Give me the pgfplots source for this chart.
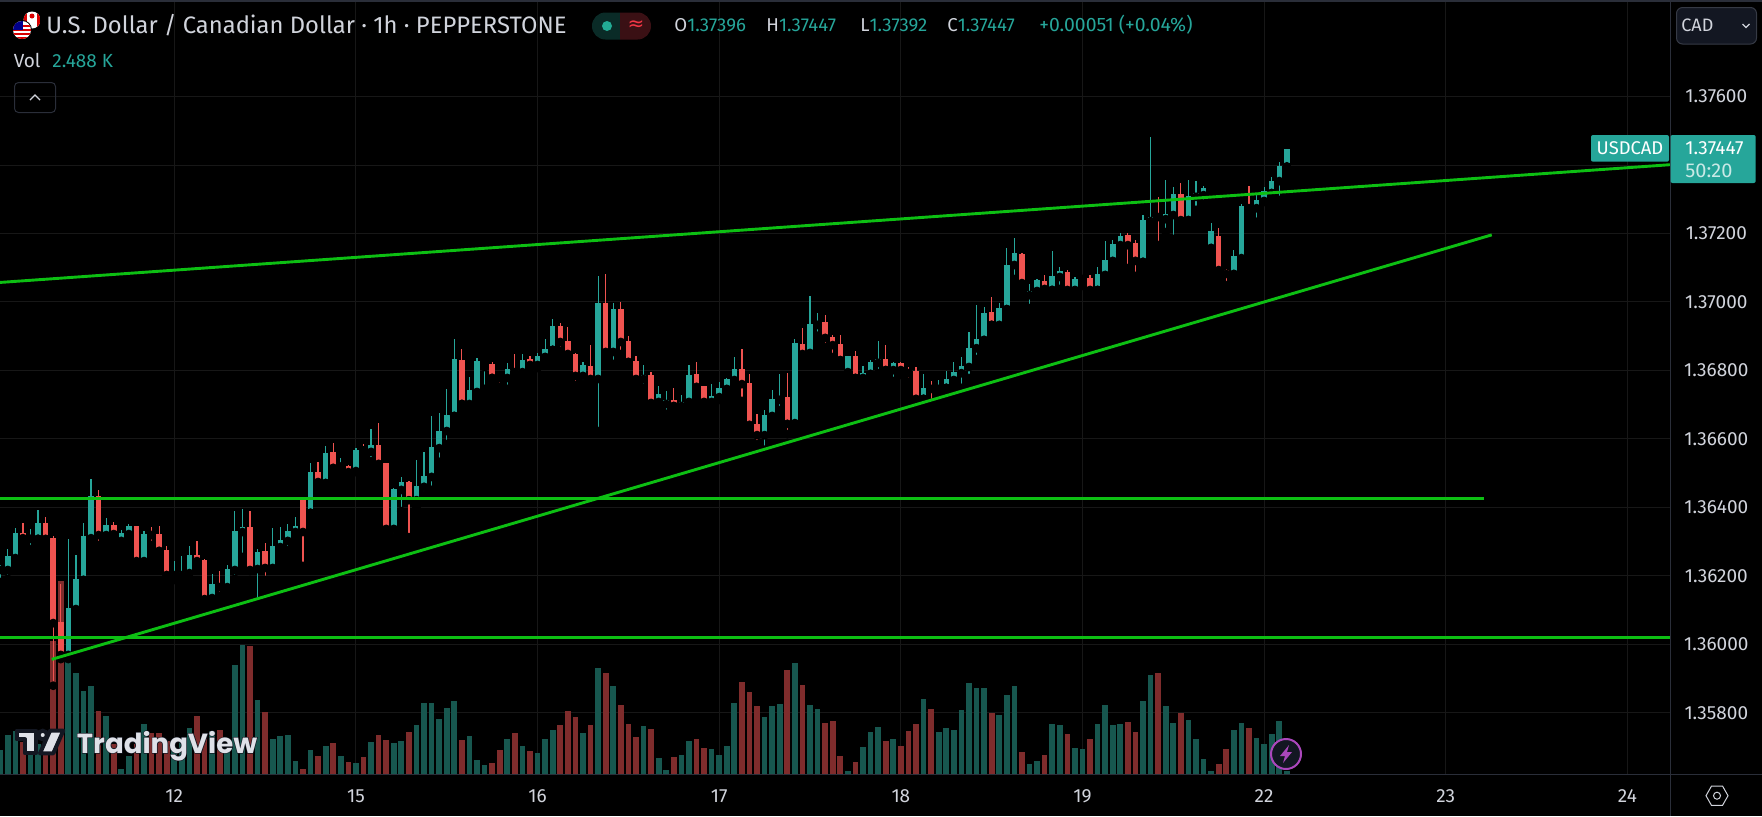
\documentclass[border=0pt]{standalone}
\usepackage{pgfplots}
\usepackage{pgfplotstable}
\usepackage{fontspec}
\pgfplotsset{compat=1.18}
\setmainfont{Fira Sans}
\newfontfamily\tvfont{Poppins}
\newfontfamily\tvhalo{Poppins}[FakeBold=4]
\newfontfamily\symfont{DejaVu Sans}
\definecolor{bgc}{HTML}{000000}
\definecolor{txt}{HTML}{D1D4DC}
\definecolor{upc}{HTML}{26A69A}
\definecolor{dnc}{HTML}{EF5350}
\definecolor{volup}{HTML}{17574F}
\definecolor{voldn}{HTML}{7F2C2C}
\definecolor{gridc}{HTML}{171717}
\definecolor{linec}{HTML}{0DBF13}
\definecolor{sep}{HTML}{2A2E39}
\definecolor{panel}{HTML}{131722}
\definecolor{purp}{HTML}{AB47BC}
\definecolor{pillg}{HTML}{0A2B27}
\definecolor{pillr}{HTML}{3A1014}
\definecolor{dotg}{HTML}{22AB94}
\definecolor{aeq}{HTML}{F23645}
\definecolor{boxb}{HTML}{363A45}
\definecolor{wm}{HTML}{DFE1E8}
\pgfplotstableread{
t o h l c
-23 1.36217 1.36231 1.36182 1.36220
-22 1.36217 1.36278 1.36191 1.36258
-21 1.36252 1.36340 1.36249 1.36325
-19 1.36308 1.36337 1.36278 1.36310
-18 1.36308 1.36392 1.36308 1.36354
-14 1.35969 1.36308 1.35957 1.36106
-13 1.36103 1.36261 1.36088 1.36191
-12 1.36188 1.36354 1.36188 1.36316
-11 1.36310 1.36483 1.36305 1.36433
-9 1.36319 1.36369 1.36305 1.36348
-7 1.36302 1.36334 1.36287 1.36325
-6 1.36322 1.36351 1.36310 1.36346
-4 1.36243 1.36331 1.36237 1.36322
0 1.36202 1.36243 1.36188 1.36205
1 1.36202 1.36258 1.36188 1.36211
2 1.36208 1.36287 1.36191 1.36261
5 1.36135 1.36205 1.36115 1.36176
7 1.36167 1.36232 1.36164 1.36220
8 1.36217 1.36389 1.36191 1.36331
9 1.36328 1.36395 1.36255 1.36343
11 1.36220 1.36278 1.36124 1.36270
13 1.36223 1.36340 1.36220 1.36287
14 1.36284 1.36343 1.36275 1.36305
15 1.36302 1.36351 1.36275 1.36331
16 1.36328 1.36372 1.36325 1.36346
18 1.36384 1.36530 1.36384 1.36503
20 1.36471 1.36579 1.36471 1.36559
22 1.36519 1.36544 1.36500 1.36521
24 1.36506 1.36573 1.36503 1.36568
26 1.36562 1.36629 1.36535 1.36582
29 1.36337 1.36457 1.36313 1.36454
30 1.36451 1.36489 1.36389 1.36474
32 1.36421 1.36538 1.36401 1.36462
33 1.36460 1.36562 1.36436 1.36492
34 1.36489 1.36667 1.36451 1.36576
35 1.36573 1.36676 1.36533 1.36623
36 1.36623 1.36746 1.36585 1.36670
37 1.36667 1.36892 1.36667 1.36833
39 1.36702 1.36781 1.36696 1.36743
40 1.36737 1.36836 1.36725 1.36828
41 1.36810 1.36822 1.36746 1.36819
44 1.36778 1.36822 1.36746 1.36804
46 1.36795 1.36848 1.36792 1.36830
48 1.36816 1.36851 1.36807 1.36842
49 1.36839 1.36892 1.36839 1.36863
50 1.36860 1.36950 1.36860 1.36930
54 1.36784 1.36825 1.36760 1.36816
56 1.36775 1.37076 1.36623 1.36997
58 1.36854 1.36997 1.36819 1.36980
62 1.36775 1.36816 1.36749 1.36787
64 1.36708 1.36755 1.36699 1.36731
65 1.36702 1.36740 1.36673 1.36714
67 1.36696 1.36728 1.36687 1.36708
68 1.36708 1.36816 1.36702 1.36787
71 1.36708 1.36760 1.36690 1.36725
72 1.36722 1.36766 1.36714 1.36749
73 1.36746 1.36778 1.36725 1.36775
74 1.36772 1.36839 1.36757 1.36804
78 1.36611 1.36684 1.36568 1.36670
79 1.36667 1.36743 1.36664 1.36716
80 1.36714 1.36790 1.36684 1.36719
82 1.36646 1.36892 1.36644 1.36880
84 1.36851 1.37017 1.36836 1.36936
85 1.36933 1.36968 1.36901 1.36941
89 1.36795 1.36842 1.36784 1.36842
91 1.36778 1.36813 1.36769 1.36792
92 1.36790 1.36830 1.36769 1.36825
93 1.36822 1.36886 1.36792 1.36833
95 1.36801 1.36825 1.36769 1.36822
99 1.36717 1.36790 1.36717 1.36749
101 1.36746 1.36772 1.36731 1.36752
102 1.36749 1.36798 1.36749 1.36775
103 1.36772 1.36825 1.36769 1.36795
104 1.36792 1.36839 1.36749 1.36813
105 1.36810 1.36912 1.36778 1.36865
106 1.36865 1.36991 1.36833 1.36892
107 1.36889 1.36985 1.36889 1.36968
109 1.36933 1.36997 1.36915 1.36982
110 1.36979 1.37158 1.36979 1.37108
111 1.37108 1.37187 1.37067 1.37143
113 1.37020 1.37052 1.36982 1.37032
114 1.37032 1.37067 1.37020 1.37064
116 1.37035 1.37149 1.37035 1.37076
117 1.37073 1.37102 1.37038 1.37090
119 1.37035 1.37073 1.37029 1.37067
120 1.37067 1.37076 1.37047 1.37070
122 1.37035 1.37102 1.37035 1.37082
123 1.37079 1.37178 1.37064 1.37123
124 1.37120 1.37181 1.37111 1.37169
125 1.37166 1.37201 1.37146 1.37193
128 1.37117 1.37254 1.37117 1.37239
129 1.37236 1.37482 1.37228 1.37248
131 1.37242 1.37356 1.37204 1.37257
132 1.37254 1.37336 1.37184 1.37315
134 1.37239 1.37356 1.37239 1.37309
135 1.37307 1.37353 1.37269 1.37318
136 1.37312 1.37339 1.37286 1.37333
137 1.37158 1.37231 1.37152 1.37207
140 1.37082 1.37152 1.37079 1.37134
141 1.37128 1.37286 1.37125 1.37280
143 1.37274 1.37312 1.37234 1.37298
144 1.37295 1.37336 1.37292 1.37324
145 1.37318 1.37365 1.37318 1.37353
146 1.37353 1.37409 1.37298 1.37397
147 1.37396 1.37447 1.37392 1.37447
}\upT
\pgfplotstableread{
t o h l c
-20 1.36325 1.36354 1.36293 1.36310
-17 1.36354 1.36372 1.36293 1.36308
-16 1.36310 1.36316 1.35879 1.36062
-15 1.36065 1.36176 1.35957 1.35969
-10 1.36433 1.36451 1.36290 1.36319
-8 1.36348 1.36357 1.36305 1.36322
-5 1.36346 1.36346 1.36229 1.36243
-3 1.36322 1.36343 1.36290 1.36319
-2 1.36322 1.36346 1.36261 1.36273
-1 1.36275 1.36287 1.36202 1.36202
3 1.36261 1.36302 1.36235 1.36243
4 1.36246 1.36249 1.36129 1.36132
6 1.36173 1.36214 1.36141 1.36167
10 1.36343 1.36389 1.36214 1.36217
12 1.36273 1.36296 1.36188 1.36223
17 1.36424 1.36430 1.36229 1.36328
19 1.36503 1.36533 1.36465 1.36474
21 1.36562 1.36588 1.36515 1.36515
23 1.36521 1.36524 1.36500 1.36503
25 1.36568 1.36585 1.36544 1.36566
27 1.36582 1.36646 1.36524 1.36527
28 1.36530 1.36530 1.36331 1.36337
31 1.36474 1.36477 1.36313 1.36421
38 1.36830 1.36863 1.36702 1.36702
42 1.36819 1.36825 1.36778 1.36778
43 1.36781 1.36784 1.36752 1.36778
45 1.36804 1.36848 1.36775 1.36795
47 1.36833 1.36842 1.36804 1.36816
51 1.36930 1.36939 1.36857 1.36883
52 1.36886 1.36927 1.36839 1.36848
53 1.36848 1.36851 1.36757 1.36784
55 1.36813 1.36874 1.36766 1.36775
57 1.36997 1.37082 1.36830 1.36854
59 1.36980 1.37000 1.36848 1.36883
60 1.36886 1.36901 1.36822 1.36825
61 1.36828 1.36842 1.36760 1.36775
63 1.36787 1.36795 1.36693 1.36705
66 1.36714 1.36749 1.36696 1.36696
69 1.36790 1.36825 1.36749 1.36752
70 1.36755 1.36755 1.36693 1.36708
75 1.36804 1.36863 1.36711 1.36760
76 1.36763 1.36790 1.36629 1.36641
77 1.36644 1.36673 1.36585 1.36611
81 1.36722 1.36792 1.36614 1.36644
83 1.36877 1.36924 1.36845 1.36848
86 1.36941 1.36962 1.36868 1.36895
87 1.36898 1.36903 1.36839 1.36874
88 1.36877 1.36903 1.36830 1.36830
90 1.36842 1.36857 1.36778 1.36778
94 1.36833 1.36874 1.36801 1.36801
96 1.36822 1.36825 1.36787 1.36801
97 1.36801 1.36810 1.36766 1.36792
98 1.36798 1.36810 1.36714 1.36717
100 1.36749 1.36769 1.36705 1.36746
108 1.36971 1.37014 1.36933 1.36933
112 1.37140 1.37143 1.37050 1.37055
115 1.37061 1.37079 1.37017 1.37038
118 1.37088 1.37093 1.37026 1.37035
121 1.37070 1.37079 1.37032 1.37035
126 1.37196 1.37201 1.37099 1.37166
127 1.37172 1.37181 1.37076 1.37120
130 1.37251 1.37307 1.37166 1.37248
133 1.37315 1.37347 1.37231 1.37239
138 1.37193 1.37216 1.37079 1.37093
139 1.37093 1.37096 1.37049 1.37082
142 1.37283 1.37339 1.37251 1.37274
}\dnT
\pgfplotstableread{
t v
-23 24
-22 39
-21 43
-19 30
-18 30
-14 121
-13 101
-12 83
-11 88
-9 58
-7 5
-6 18
-4 50
0 25
1 35
2 46
5 43
7 25
8 109
9 129
11 74
13 35
14 38
15 39
16 13
18 24
20 28
22 18
24 11
26 32
29 31
30 33
32 49
33 71
34 71
35 55
36 66
37 73
39 38
40 14
41 9
44 35
46 28
48 21
49 35
50 44
54 41
56 106
58 88
62 48
64 16
65 4
67 19
68 33
71 25
72 19
73 28
74 71
78 57
79 68
80 70
82 111
84 69
85 65
89 3
91 27
92 42
93 47
95 35
99 75
101 42
102 46
103 44
104 64
105 91
106 86
107 86
109 59
110 79
111 88
113 10
114 13
116 50
117 49
119 26
120 25
122 50
123 69
124 49
125 50
128 73
129 99
131 68
132 51
134 54
135 35
136 15
137 3
140 44
141 51
143 36
144 30
145 40
146 53
147 3
}\volUp
\pgfplotstableread{
t v
-20 32
-17 35
-16 133
-15 193
-10 63
-8 30
-5 30
-3 41
-2 41
-1 33
3 58
4 41
6 44
10 128
12 62
17 5
19 18
21 31
23 12
25 17
27 39
28 34
31 42
38 34
42 11
43 24
45 41
47 23
51 49
52 63
53 57
55 49
57 101
59 69
60 50
61 37
63 45
66 17
69 35
70 26
75 92
76 82
77 68
81 104
83 89
86 51
87 53
88 18
90 12
94 33
96 28
97 43
98 50
100 65
108 61
112 22
115 19
118 40
121 35
126 52
127 42
130 101
133 61
138 10
139 25
142 46
}\volDn
\pgfplotsset{
 base/.style={
  at={(0pt,-387.15pt)}, anchor=south west, scale only axis,
  width=835.15pt, height=387.15pt,
  xmin=-23.03, xmax=197.67},
 price/.style={base, ymin=1.356203, ymax=1.37882},
}
\begin{document}
\begin{tikzpicture}
\useasboundingbox (0pt,0pt) rectangle (881pt,-408pt);
\fill[bgc] (0pt,0pt) rectangle (881pt,-408pt);
% grid and tick labels
\begin{axis}[price,
  axis line style={draw=none}, tick style={draw=none}, major tick length=0pt,
  grid=major, grid style={gridc, line width=0.5pt},
  xtick={0,24,48,72,96,120,144,168,192},
  xticklabels={12,15,16,17,18,19,22,23,24},
  ytick={1.358,1.360,1.362,1.364,1.366,1.368,1.370,1.372,1.374,1.376},
  yticklabels={1.35800,1.36000,1.36200,1.36400,1.36600,1.36800,1.37000,1.37200,{},1.37600},
  yticklabel pos=right,
  xticklabel pos=lower,
  scaled y ticks=false,
  tick label style={font=\fontsize{9.5}{11}\selectfont, color=txt, inner sep=0pt, anchor=center},
  yticklabel style={xshift=23pt},
  xticklabel style={yshift=-10.8pt},
  clip=false]
 \addplot[draw=none, forget plot] coordinates {(0,1.37) (1,1.37)};
\end{axis}
% volume
\begin{axis}[base, ymin=0, ymax=774.3, hide axis]
 \addplot[ycomb, mark=none, color=volup, line width=2.85pt, line cap=butt] table[x=t, y=v] {\volUp};
 \addplot[ycomb, mark=none, color=voldn, line width=2.85pt, line cap=butt] table[x=t, y=v] {\volDn};
\end{axis}
% candles
\begin{axis}[price, hide axis]
 \addplot[only marks, mark=none, forget plot,
   error bars/.cd, y dir=plus, y explicit, error mark=none,
   error bar style={line width=0.6pt, draw=upc, line cap=butt}]
   table[x=t, y=l, y error plus expr=\thisrow{h}-\thisrow{l}] {\upT};
 \addplot[only marks, mark=none, forget plot,
   error bars/.cd, y dir=plus, y explicit, error mark=none,
   error bar style={line width=0.6pt, draw=dnc, line cap=butt}]
   table[x=t, y=l, y error plus expr=\thisrow{h}-\thisrow{l}] {\dnT};
 \addplot[only marks, mark=none, forget plot,
   error bars/.cd, y dir=plus, y explicit, error mark=none,
   error bar style={line width=2.75pt, draw=upc, line cap=butt}]
   table[x=t, y=o, y error plus expr=\thisrow{c}-\thisrow{o}] {\upT};
 \addplot[only marks, mark=none, forget plot,
   error bars/.cd, y dir=plus, y explicit, error mark=none,
   error bar style={line width=2.75pt, draw=dnc, line cap=butt}]
   table[x=t, y=c, y error plus expr=\thisrow{o}-\thisrow{c}] {\dnT};
\end{axis}
% drawn trend and level lines
\begin{axis}[price, hide axis]
 \addplot[linec, line width=1.45pt] coordinates {(-23.03,1.37057) (197.67,1.37401)};
 \addplot[linec, line width=1.45pt] coordinates {(-16.2,1.35956) (174.08,1.37196)};
 \addplot[linec, line width=1.45pt] coordinates {(-23.03,1.36427) (172.99,1.36427)};
 \addplot[linec, line width=1.45pt] coordinates {(-23.03,1.36019) (197.67,1.36019)};
\end{axis}
% interface furniture, in image pixels
\begin{scope}[x=0.5pt,y=-0.5pt]
 \fill[sep] (0,0) rectangle (1762,1.5);
 \draw[sep,line width=0.5pt] (0,774.3) -- (1762,774.3);
 \draw[sep,line width=0.5pt] (1670.3,0) -- (1670.3,816);
 % flags
 \begin{scope}
  \clip (32,20) circle (8.5);
  \fill[white] (23,11) rectangle (41,29);
  \fill[red!85!black] (23,11) rectangle (27,29);
  \fill[red!85!black] (37,11) rectangle (41,29);
  \fill[red!85!black] (32,16) circle (2.5);
 \end{scope}
 \fill[black] (22,30) circle (10);
 \begin{scope}
  \clip (22,30) circle (9);
  \fill[white] (12,20) rectangle (32,40);
  \foreach \yy in {25,29,33,37} \fill[red!85!black] (12,\yy) rectangle (32,\yy+2);
  \fill[blue!55!black] (12,20) rectangle (23,30);
 \end{scope}
 % header
 \node[anchor=base west,inner sep=0,text=txt,font=\fontsize{11.9}{14}\selectfont] at (46,33.5) {U.S. Dollar / Canadian Dollar · 1h · PEPPERSTONE};
 \begin{scope}
  \clip (590,10) rectangle (620,42);
  \fill[pillg,rounded corners=6.7pt] (592,12.5) rectangle (651,39.5);
 \end{scope}
 \begin{scope}
  \clip (620,10) rectangle (655,42);
  \fill[pillr,rounded corners=6.7pt] (592,12.5) rectangle (651,39.5);
 \end{scope}
 \fill[dotg] (607,26) circle (5);
 \node[inner sep=0,text=aeq,font=\symfont\fontsize{10}{11}\selectfont] at (636,26) {≈};
 \node[anchor=base west,inner sep=0,font=\fontsize{9.3}{11}\selectfont] at (674,31) {\textcolor{txt}{O}\textcolor{upc}{1.37396}};
 \node[anchor=base west,inner sep=0,font=\fontsize{9.3}{11}\selectfont] at (766,31) {\textcolor{txt}{H}\textcolor{upc}{1.37447}};
 \node[anchor=base west,inner sep=0,font=\fontsize{9.3}{11}\selectfont] at (860,31) {\textcolor{txt}{L}\textcolor{upc}{1.37392}};
 \node[anchor=base west,inner sep=0,font=\fontsize{9.3}{11}\selectfont] at (947,31) {\textcolor{txt}{C}\textcolor{upc}{1.37447}};
 \node[anchor=base west,inner sep=0,text=upc,font=\fontsize{9.7}{11}\selectfont] at (1039,31) {+0.00051 (+0.04\%)};
 \node[anchor=base west,inner sep=0,text=txt,font=\fontsize{9.5}{11}\selectfont] at (13.4,67.5) {Vol};
 \node[anchor=base west,inner sep=0,text=upc,font=\fontsize{9.5}{11}\selectfont] at (52,67.5) {2.488 K};
 \draw[sep,line width=0.5pt,rounded corners=2pt] (14.5,82.5) rectangle (55.5,112.5);
 \draw[txt,line width=0.7pt] (30,100) -- (35,95) -- (40,100);
 % currency box
 \draw[boxb,fill=panel,line width=0.5pt,rounded corners=3pt] (1676.5,7.5) rectangle (1756.5,44);
 \node[anchor=base west,inner sep=0,text=txt,font=\fontsize{9}{11}\selectfont] at (1681,31.5) {CAD};
 \draw[txt,line width=0.6pt] (1742.5,24) -- (1746,27.5) -- (1749.5,24);
 % last price tags
 \fill[upc,rounded corners=1pt] (1591,135) rectangle (1669,161.7);
 \node[inner sep=0,text=white,font=\fontsize{9.2}{11}\selectfont] at (1630,148.5) {USDCAD};
 \fill[upc,rounded corners=1pt] (1670.5,135) rectangle (1755.7,183);
 \node[anchor=base west,inner sep=0,text=white,font=\fontsize{9.5}{11}\selectfont] at (1685,154.5) {1.37447};
 \node[anchor=base west,inner sep=0,text=white!75!upc,font=\fontsize{10}{11}\selectfont] at (1685,177) {50:20};
 % settings icon
 \draw[txt,line width=0.5pt] (1728,795.7) -- (1722.5,786) -- (1711.5,786) -- (1706,795.7) -- (1711.5,805.4) -- (1722.5,805.4) -- cycle;
 \draw[txt,line width=0.5pt] (1717,795.7) circle (3.5);
 % lightning badge
 \draw[purp,fill=panel,line width=1pt] (1286,754) circle (15);
 \fill[purp] (1289,745) -- (1280,756) -- (1285,756) -- (1283,763) -- (1292,752) -- (1287,752) -- cycle;
 % watermark
 \draw[panel,line width=2pt,fill=wm,line join=round]
   (16.7,730.7) -- (36,730.7) -- (36,753.3) -- (25,753.3) -- (25,739.3) -- (16.7,739.3) -- cycle;
 \draw[panel,line width=2pt,fill=wm] (42.7,735) circle (4.3);
 \draw[panel,line width=2pt,fill=wm,line join=round]
   (50,730.7) -- (63.3,730.7) -- (53.3,753.3) -- (40,753.3) -- cycle;
 \node[anchor=base west,inner sep=0,text=panel,font=\tvhalo\bfseries\fontsize{13.8}{16}\selectfont] at (76.5,753) {TradingView};
 \node[anchor=base west,inner sep=0,text=wm,font=\tvfont\bfseries\fontsize{13.8}{16}\selectfont] at (76.5,753) {TradingView};
\end{scope}
\end{tikzpicture}
\end{document}
